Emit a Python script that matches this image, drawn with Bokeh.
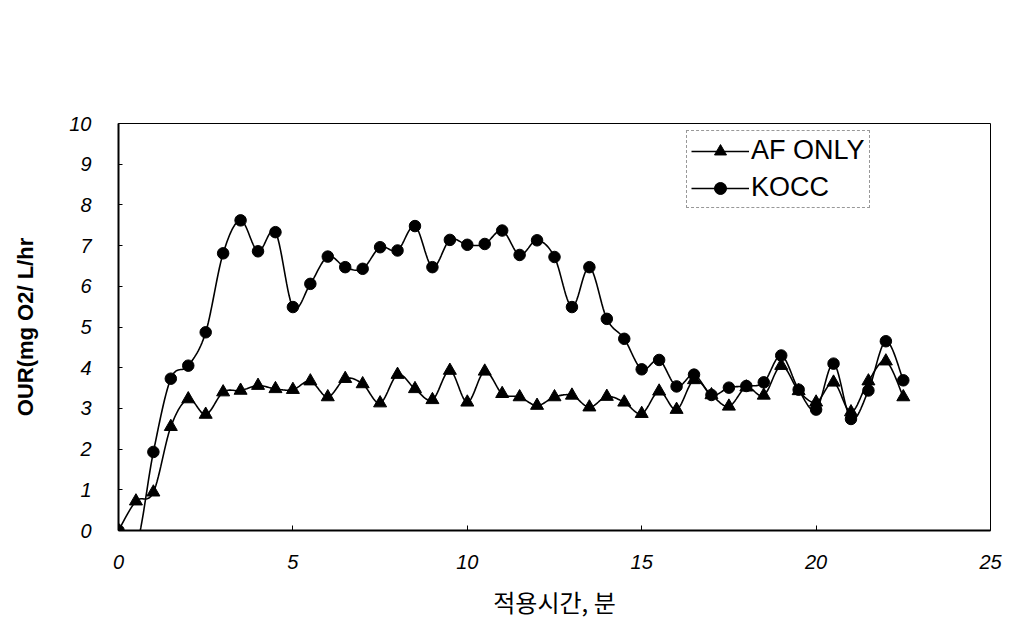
import numpy as np
from bokeh.plotting import figure
from bokeh.models import Range1d, FixedTicker, Legend, LegendItem
from bokeh.embed import file_html
from bokeh.resources import INLINE

# ---- data ----
minutes = [0, 0.5, 1, 1.5, 2, 2.5, 3, 3.5, 4, 4.5, 5, 5.5, 6, 6.5, 7, 7.5, 8, 8.5,
           9, 9.5, 10, 10.5, 11, 11.5, 12, 12.5, 13, 13.5, 14, 14.5, 15, 15.5, 16,
           16.5, 17, 17.5, 18, 18.5, 19, 19.5, 20, 20.5, 21, 21.5, 22, 22.5]
af_only = [0, 0.72, 0.94, 2.55, 3.23, 2.85, 3.40, 3.44, 3.56, 3.48, 3.46, 3.67,
           3.28, 3.73, 3.60, 3.13, 3.83, 3.48, 3.21, 3.93, 3.15, 3.91, 3.36, 3.28,
           3.07, 3.28, 3.32, 3.03, 3.29, 3.15, 2.87, 3.42, 2.97, 3.70, 3.33, 3.05,
           3.52, 3.32, 4.05, 3.43, 3.15, 3.64, 2.91, 3.67, 4.16, 3.28]
kocc = [0, -0.4, 1.93, 3.73, 4.05, 4.87, 6.81, 7.62, 6.86, 7.33, 5.49, 6.06,
        6.73, 6.47, 6.43, 6.96, 6.88, 7.48, 6.47, 7.14, 7.02, 7.04, 7.37, 6.77,
        7.13, 6.72, 5.49, 6.47, 5.20, 4.71, 3.96, 4.19, 3.54, 3.83, 3.33, 3.51,
        3.55, 3.64, 4.30, 3.46, 2.97, 4.10, 2.74, 3.44, 4.65, 3.69]
x_ticks = [0, 5, 10, 15, 20, 25]
y_ticks = [0, 1, 2, 3, 4, 5, 6, 7, 8, 9, 10]
series_names = ["AF ONLY", "KOCC"]
x_label = "적용시간, 분"
y_label = "OUR(mg O2/ L/hr"


def smooth(xs, ys, n=14):
    """Excel-style smoothed line (Catmull-Rom as cubic Bezier)."""
    xs = np.asarray(xs, float)
    ys = np.asarray(ys, float)
    ox, oy = [], []
    m = len(xs)
    for i in range(m - 1):
        i0 = i - 1 if i > 0 else i
        i3 = i + 2 if i + 2 < m else i + 1
        p1 = np.array([xs[i], ys[i]])
        p2 = np.array([xs[i + 1], ys[i + 1]])
        p0 = np.array([xs[i0], ys[i0]])
        p3 = np.array([xs[i3], ys[i3]])
        c1 = p1 + (p2 - p0) / 6.0
        c2 = p2 - (p3 - p1) / 6.0
        ts = np.linspace(0, 1, n, endpoint=False)
        for t in ts:
            b = ((1 - t) ** 3) * p1 + 3 * ((1 - t) ** 2) * t * c1 + 3 * (1 - t) * t * t * c2 + t ** 3 * p2
            ox.append(b[0])
            oy.append(b[1])
    ox.append(xs[-1])
    oy.append(ys[-1])
    return ox, oy


p = figure(width=1022, height=628, output_backend="svg", toolbar_location=None,
           x_range=Range1d(0, 25), y_range=Range1d(0, 10),
           min_border_left=118, min_border_right=32, min_border_top=123,
           min_border_bottom=98)

p.background_fill_color = "white"
p.border_fill_color = "white"
p.outline_line_color = "black"
p.outline_line_width = 1
p.xgrid.visible = False
p.ygrid.visible = False

tick_font = "Liberation Sans"
for ax in (p.xaxis[0], p.yaxis[0]):
    ax.major_label_text_font = tick_font
    ax.major_label_text_font_style = "italic"
    ax.major_label_text_font_size = "20px"
    ax.major_label_text_color = "black"
    ax.minor_tick_line_color = None
    ax.major_tick_out = 0
    ax.axis_line_color = "black"
    ax.axis_line_width = 2
    ax.major_tick_line_color = "black"

p.xaxis.ticker = FixedTicker(ticks=x_ticks)
p.yaxis.ticker = FixedTicker(ticks=y_ticks)
p.xaxis.major_tick_in = 5
p.yaxis.major_tick_in = 4
p.xaxis.major_label_standoff = 24
p.yaxis.major_label_standoff = 27

p.xaxis.axis_label = x_label
p.xaxis.axis_label_text_font = "Noto Sans CJK KR"
p.xaxis.axis_label_text_font_style = "normal"
p.xaxis.axis_label_text_font_size = "24px"
p.xaxis.axis_label_text_color = "black"
p.xaxis.axis_label_standoff = 12

p.yaxis.axis_label = y_label
p.yaxis.axis_label_text_font = "Liberation Sans"
p.yaxis.axis_label_text_font_style = "bold"
p.yaxis.axis_label_text_font_size = "22px"
p.yaxis.axis_label_text_color = "black"
p.yaxis.axis_label_standoff = 28

# ---- series ----
sx, sy = smooth(minutes, af_only)
l1 = p.line(sx, sy, line_color="black", line_width=1.6)
m1 = p.scatter(minutes, af_only, marker="triangle", size=13, fill_color="black",
               line_color="black")

kx, ky = smooth(minutes, kocc)
l2 = p.line(kx, ky, line_color="black", line_width=1.6)
m2 = p.scatter(minutes, kocc, marker="circle", size=11.5, fill_color="black",
               line_color="black")

legend = Legend(items=[LegendItem(label=series_names[0], renderers=[l1, m1]),
                       LegendItem(label=series_names[1], renderers=[l2, m2])],
                location=(568, 322))
legend.label_text_font = "Liberation Sans"
legend.label_text_font_size = "27px"
legend.label_text_color = "black"
legend.label_height = 30
legend.glyph_height = 30
legend.glyph_width = 58
legend.label_standoff = 2
legend.spacing = 6
legend.padding = 4
legend.margin = 0
legend.border_line_color = "#333333"
legend.border_line_dash = "4 2"
legend.border_line_width = 1
legend.background_fill_color = "white"
legend.background_fill_alpha = 1
p.add_layout(legend, "center")

open("out.html", "w").write(file_html(p, INLINE))
